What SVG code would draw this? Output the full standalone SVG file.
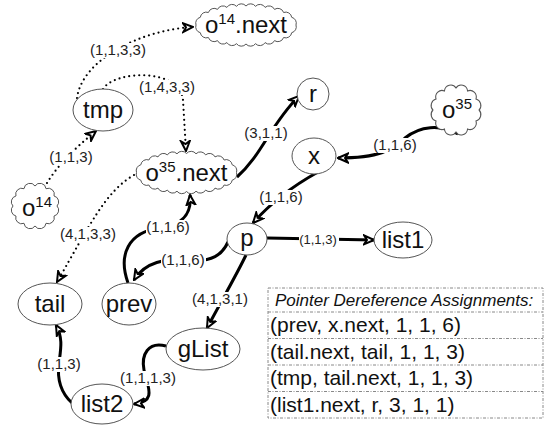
<svg xmlns="http://www.w3.org/2000/svg" width="550" height="431" viewBox="0 0 550 431">
<style>
.nd{fill:#fff;stroke:#555;stroke-width:1}
.t{font-family:"Liberation Sans",Arial,sans-serif;font-size:24px;text-anchor:middle;fill:#111}
.sup{font-size:15px}
.s{fill:none;stroke:#000;stroke-width:3;marker-end:url(#ah)}
.d{fill:none;stroke:#000;stroke-width:2.2;stroke-linecap:round;stroke-dasharray:0 5;marker-end:url(#ah)}
.bg{fill:#fff;stroke:none}
.l{font-family:"Liberation Sans",Arial,sans-serif;font-size:15px;text-anchor:middle;fill:#222}
.tb{fill:none;stroke:#888;stroke-width:1;stroke-dasharray:3 1.5 1 1.5}
.r{font-family:"Liberation Sans",Arial,sans-serif;font-size:21px;fill:#111}
</style>
<defs>
<marker id="ah" viewBox="0 0 12 12" refX="11" refY="6" markerWidth="12" markerHeight="12" markerUnits="userSpaceOnUse" orient="auto">
<path d="M1,1.5 L11,6 L1,10.5 L4,6 Z" fill="#fff" stroke="#000" stroke-width="2"/>
</marker>
<path id="bigcloud" d="M50,0 A6,6 0 0 1 45.7,7.7 A6,6 0 0 1 37.6,12.5 A6,6 0 0 1 28.5,15.6 A6,6 0 0 1 19.1,17.6 A6,6 0 0 1 9.5,18.7 A6,6 0 0 1 0,19 A6,6 0 0 1 -9.5,18.7 A6,6 0 0 1 -19.1,17.6 A6,6 0 0 1 -28.5,15.6 A6,6 0 0 1 -37.6,12.5 A6,6 0 0 1 -45.7,7.7 A6,6 0 0 1 -50,0 A6,6 0 0 1 -45.7,-7.7 A6,6 0 0 1 -37.6,-12.5 A6,6 0 0 1 -28.5,-15.6 A6,6 0 0 1 -19.1,-17.6 A6,6 0 0 1 -9.5,-18.7 A6,6 0 0 1 0,-19 A6,6 0 0 1 9.5,-18.7 A6,6 0 0 1 19.1,-17.6 A6,6 0 0 1 28.5,-15.6 A6,6 0 0 1 37.6,-12.5 A6,6 0 0 1 45.7,-7.7 A6,6 0 0 1 50,0 Z"/>
<path id="smallcloud" d="M22,0 A6,6 0 0 1 19.05,10 A6,6 0 0 1 11,17.3 A6,6 0 0 1 0,20 A6,6 0 0 1 -11,17.3 A6,6 0 0 1 -19.05,10 A6,6 0 0 1 -22,0 A6,6 0 0 1 -19.05,-10 A6,6 0 0 1 -11,-17.3 A6,6 0 0 1 0,-20 A6,6 0 0 1 11,-17.3 A6,6 0 0 1 19.05,-10 A6,6 0 0 1 22,0 Z"/>
</defs>

<g id="connectors">
<path class="d" d="M77,98 C82,60 140,30 193,27"/>
<path class="d" d="M103,89 C115,70 180,68 183,100 L186,151"/>
<path class="d" d="M47,183 C58,165 75,148 96,131"/>
<path class="d" d="M134,175 C105,192 90,225 57,282"/>
<path class="s" d="M237,177 C262,155 270,125 299,96"/>
<path class="s" d="M458,134 C440,124 420,126 405,138 C392,150 380,158 338,158"/>
<path class="s" d="M318,172 C300,182 275,198 253,223"/>
<path class="s" d="M128,283 C118,255 128,232 160,228 C182,225 192,215 190,195"/>
<path class="s" d="M228,242 C222,255 212,262 190,260 C165,258 145,262 134,280"/>
<path class="s" d="M267,238 L374,240"/>
<path class="s" d="M246,255 C238,272 222,300 207,328"/>
<path class="s" d="M166,346 C148,341 141,355 144,370 C147,385 158,402 134,404"/>
<path class="s" d="M72,403 C60,392 57,378 59,363 C61,348 63,338 56,325"/>
<rect class="bg" x="89" y="43" width="58" height="15"/>
<rect class="bg" x="138" y="80" width="58" height="15"/>
<rect class="bg" x="49" y="150" width="45" height="15"/>
<rect class="bg" x="244" y="126" width="45" height="15"/>
<rect class="bg" x="373" y="138" width="45" height="15"/>
<rect class="bg" x="259" y="190" width="45" height="15"/>
<rect class="bg" x="146" y="220" width="45" height="15"/>
<rect class="bg" x="161" y="253" width="45" height="15"/>
<rect class="bg" x="59" y="227" width="58" height="15"/>
<rect class="bg" x="191" y="292" width="58" height="15"/>
<rect class="bg" x="37" y="357" width="45" height="15"/>
<rect class="bg" x="119" y="371" width="58" height="15"/>
<rect class="bg" x="299" y="233" width="40" height="13"/>
<text class="l" x="118" y="55">(1,1,3,3)</text>
<text class="l" x="167" y="92">(1,4,3,3)</text>
<text class="l" x="71" y="162">(1,1,3)</text>
<text class="l" x="266" y="138">(3,1,1)</text>
<text class="l" x="395" y="150">(1,1,6)</text>
<text class="l" x="281" y="202">(1,1,6)</text>
<text class="l" x="168" y="232">(1,1,6)</text>
<text class="l" x="183" y="265">(1,1,6)</text>
<text class="l" x="88" y="239">(4,1,3,3)</text>
<text class="l" x="220" y="304">(4,1,3,1)</text>
<text class="l" x="59" y="369">(1,1,3)</text>
<text class="l" x="148" y="383">(1,1,1,3)</text>
<text class="l" x="318" y="244" style="font-size:13px">(1,1,3)</text>
</g>

<g id="o14next"><use href="#bigcloud" class="nd" transform="translate(246,25)"/><text class="t" x="246" y="33">o<tspan class="sup" dy="-9">14</tspan><tspan dy="9">.next</tspan></text></g>
<g id="o35next"><use href="#bigcloud" class="nd" transform="translate(186.5,172.5)"/><text class="t" x="186.5" y="181">o<tspan class="sup" dy="-9">35</tspan><tspan dy="9">.next</tspan></text></g>
<g id="o14"><use href="#smallcloud" class="nd" transform="translate(35,206)"/><text class="t" x="37" y="216">o<tspan class="sup" dy="-9">14</tspan></text></g>
<g id="o35"><use href="#smallcloud" class="nd" transform="translate(456,110) scale(1.05,1.1)"/><text class="t" x="457" y="118">o<tspan class="sup" dy="-9">35</tspan></text></g>
<g id="tmp"><ellipse class="nd" cx="103" cy="110" rx="30" ry="21"/><text class="t" x="103" y="118">tmp</text></g>
<g id="r"><ellipse class="nd" cx="313" cy="94" rx="16" ry="16"/><text class="t" x="313" y="102">r</text></g>
<g id="x"><ellipse class="nd" cx="314" cy="156" rx="22" ry="18"/><text class="t" x="314" y="164">x</text></g>
<g id="p"><ellipse class="nd" cx="247" cy="239" rx="20" ry="16"/><text class="t" x="247" y="246">p</text></g>
<g id="list1"><ellipse class="nd" cx="403" cy="240" rx="29" ry="18"/><text class="t" x="403" y="248">list1</text></g>
<g id="prev"><ellipse class="nd" cx="129" cy="304" rx="27" ry="21"/><text class="t" x="129" y="312">prev</text></g>
<g id="tail"><ellipse class="nd" cx="50" cy="304" rx="32" ry="21"/><text class="t" x="50" y="312">tail</text></g>
<g id="gList"><ellipse class="nd" cx="203" cy="349" rx="37" ry="21"/><text class="t" x="203" y="357">gList</text></g>
<g id="list2"><ellipse class="nd" cx="102" cy="404" rx="31" ry="20"/><text class="t" x="102" y="412">list2</text></g>

<g id="table">
<rect class="tb" x="268" y="288" width="275" height="130"/>
<line class="tb" x1="268" y1="312" x2="543" y2="312"/>
<line class="tb" x1="268" y1="338.5" x2="543" y2="338.5"/>
<line class="tb" x1="268" y1="365" x2="543" y2="365"/>
<line class="tb" x1="268" y1="391.5" x2="543" y2="391.5"/>
<text class="r" x="275" y="306" style="font-size:17px;font-style:italic">Pointer Dereference Assignments:</text>
<text class="r" x="270" y="332">(prev, x.next, 1, 1, 6)</text>
<text class="r" x="270" y="358.5">(tail.next, tail, 1, 1, 3)</text>
<text class="r" x="270" y="385">(tmp, tail.next, 1, 1, 3)</text>
<text class="r" x="270" y="411.5">(list1.next, r, 3, 1, 1)</text>
</g>
</svg>
